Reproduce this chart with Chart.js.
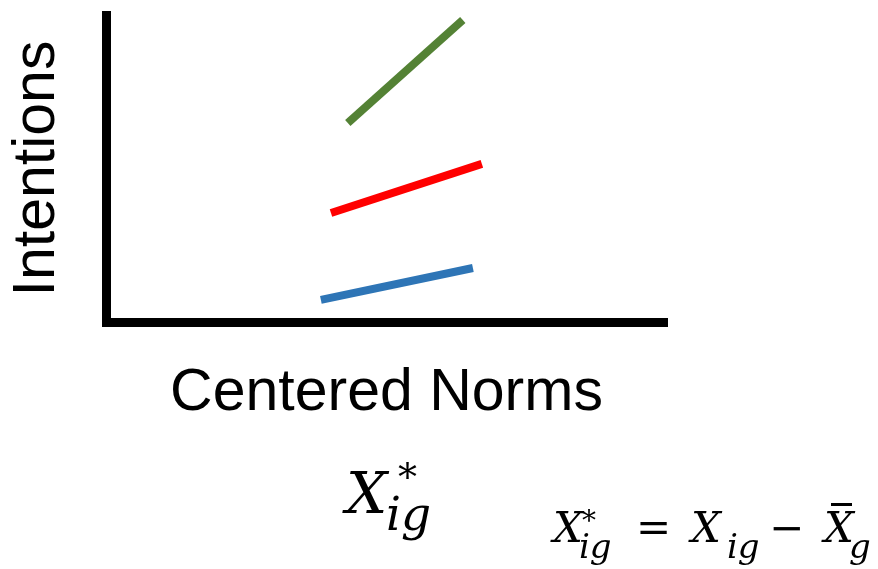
<!DOCTYPE html>
<html>
<head>
<meta charset="utf-8">
<script src="https://cdn.jsdelivr.net/npm/chart.js@4.4.1/dist/chart.umd.min.js"></script>
<style>
  body { margin: 0; background: #fff; }
  #grafico { display: block; }
</style>
</head>
<body>
<canvas id="grafico" width="878" height="569"></canvas>
<script>
// datos (escala 0..10 en ambos ejes)
const grupos = ["alto", "medio", "bajo"];
const colores = ["#548235", "#ff0000", "#2e75b6"];
const normasX = [[4.31, 6.36], [4.01, 6.70], [3.83, 6.54]];
const intencionesY = [[6.48, 9.84], [3.55, 5.15], [0.72, 1.76]];
const tituloX = "Centered Norms";
const tituloY = "Intentions";

// piezas de la formula: texto, borde izq. de tinta, linea base, fuente
const serifIt = "italic %spx 'DejaVu Serif', 'Liberation Serif', serif";
const serifUp = "%spx 'DejaVu Serif', 'Liberation Serif', serif";
const formula = [
  ["X", 342, 513, serifIt, 58], ["*", 398, 490, serifUp, 38], ["ig", 388, 530, serifIt, 47],
  ["X", 550, 542, serifIt, 42], ["*", 582, 530, serifUp, 28], ["ig", 580, 558, serifIt, 34],
  ["=", 640, 542, serifUp, 42],
  ["X", 688, 542, serifIt, 42], ["ig", 728, 558, serifIt, 34],
  ["\u2212", 773, 542, serifUp, 42],
  ["X", 821, 542, serifIt, 42], ["g", 850, 558, serifIt, 34]
];

const datasets = grupos.map(function(g, i){
    return {
        label: g,
        data: normasX[i].map(function(x, j){ return {x: x, y: intencionesY[i][j]}; }),
        showLine: true,
        borderColor: colores[i],
        backgroundColor: colores[i],
        borderWidth: 8,
        borderCapStyle: 'butt',
        pointRadius: 0,
        fill: false
    };
});

const textoFormula = {
    id: 'textoFormula',
    afterDraw(chart){
        const ctx = chart.ctx;
        ctx.save();
        ctx.fillStyle = '#000';
        ctx.textAlign = 'left';
        ctx.textBaseline = 'alphabetic';
        formula.forEach(function(p){
            ctx.font = p[3].replace('%s', p[4]);
            const m = ctx.measureText(p[0]);
            ctx.fillText(p[0], p[1] + m.actualBoundingBoxLeft, p[2]);
        });
        // barra de la media
        ctx.fillRect(831, 503, 21, 3);
        ctx.restore();
    }
};

const ctx = document.getElementById('grafico').getContext('2d');
const myChart = new Chart(ctx, {
    type: 'scatter',
    data: { datasets: datasets },
    options: {
        responsive: false,
        animation: false,
        devicePixelRatio: 1,
        layout: { padding: { left: 0, top: 15, right: 211, bottom: 0 } },
        plugins: {
            legend: { display: false },
            tooltip: { enabled: false }
        },
        scales: {
            x: {
                type: 'linear',
                min: 0,
                max: 10,
                grid: { display: false },
                ticks: { display: false },
                border: { display: true, color: '#000', width: 9 },
                title: {
                    display: true,
                    text: tituloX,
                    color: '#000',
                    font: { family: "'Liberation Sans', Arial, sans-serif", size: 59 },
                    padding: { top: 0, bottom: 140 }
                },
                afterFit(scale){ scale.height = 247; }
            },
            y: {
                type: 'linear',
                min: 0,
                max: 10,
                grid: { display: false },
                ticks: { display: false },
                border: { display: true, color: '#000', width: 9 },
                title: {
                    display: true,
                    text: tituloY,
                    color: '#000',
                    font: { family: "'Liberation Sans', Arial, sans-serif", size: 59 },
                    padding: { top: 2, bottom: 0 }
                },
                afterFit(scale){ scale.width = 106; }
            }
        }
    },
    plugins: [textoFormula]
});
</script>
</body>
</html>
